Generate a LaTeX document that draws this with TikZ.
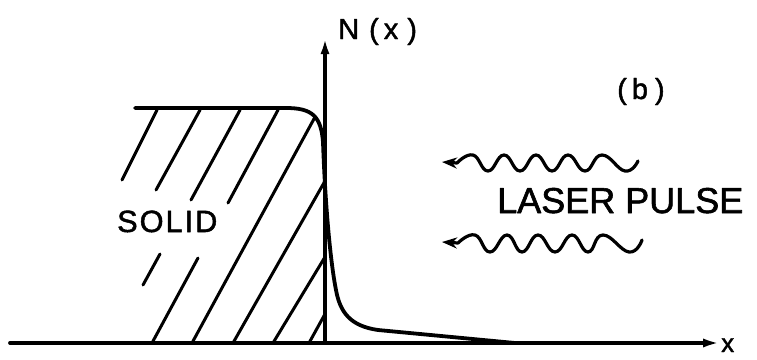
\documentclass[tikz,border=0pt]{standalone}
\usepackage{fontspec}
\setmainfont{Liberation Sans}
\newfontfamily\lett{Liberation Sans}[FakeBold=1.6]
\usetikzlibrary{arrows.meta}
\begin{document}
\begin{tikzpicture}[x=1pt,y=-1pt,
  line cap=round, line join=round,
  mainline/.style={line width=3.8pt},
  hatch/.style={line width=3pt},
  wave/.style={line width=3.2pt},
  lbl/.style={inner sep=0pt, anchor=base west, font=\lett}]
\useasboundingbox (0,0) rectangle (757,359);
% axes
\coordinate (xl) at (10,343);
\coordinate (xr) at (721,343);
\coordinate (o) at (325,343);
\coordinate (yt) at (325,38);
\draw[mainline,-{Latex[length=18pt,width=9pt]}] (xl) -- (xr);
\draw[line width=3.2pt,-{Latex[length=16pt,width=9pt]}] (o) -- (yt);
% density profile
\draw[mainline] (135,108) -- (286,108)
  .. controls (312,108) and (321,116) .. (323,142)
  .. controls (325,200) and (330,260) .. (336,290)
  .. controls (340,312) and (350,326) .. (378,330)
  -- (515,343);
% hatching
\draw[hatch] (122,180) -- (157,110);
\draw[hatch] (156,190) -- (200,110);
\draw[hatch] (191,200) -- (240,110);
\draw[hatch] (143,285) -- (160,254);
\draw[hatch] (228,203) -- (278,110);
\draw[hatch] (152,343) -- (198,258);
\draw[hatch] (192,343) -- (315,117);
\draw[hatch] (233,343) -- (325,181);
\draw[hatch] (273,343) -- (325,257);
\draw[hatch] (309,343) -- (325,314);
% laser waves
\draw[wave,{Stealth[length=15pt,width=11pt]}-] (442,162) -- (457,163)
  -- plot[smooth,tension=0.8] coordinates {(457,163) (473,155) (488,171) (504,155) (520,171) (536,155) (552,171) (568,155) (585,171) (602,155) (625,171) (638,161)};
\draw[wave,{Stealth[length=15pt,width=11pt]}-] (442,242) -- (458,243)
  -- plot[smooth,tension=0.8] coordinates {(458,243) (475,235) (490,252) (507,235) (522,252) (538,235) (555,252) (572,235) (588,252) (603,235) (629,252) (642,240)};
% labels
\node[lbl] (solid) at (117,232) {\fontsize{30.7}{36}\selectfont S\hspace{2pt}O\hspace{2pt}L\hspace{2pt}I\hspace{2pt}D};
\node[lbl] (laser) at (497,213) {\fontsize{36}{42}\selectfont LASER PULSE};
\node[lbl] (b) at (617,99) {\fontsize{29}{32}\selectfont (\hspace{5pt}b\hspace{7pt})};
\node[lbl] (nx) at (338,39) {\fontsize{29}{32}\selectfont N\hspace{10pt}(\hspace{5pt}x\hspace{9pt})};
\node[lbl] (xlab) at (721,352) {\fontsize{26}{30}\selectfont x};
\end{tikzpicture}
\end{document}
